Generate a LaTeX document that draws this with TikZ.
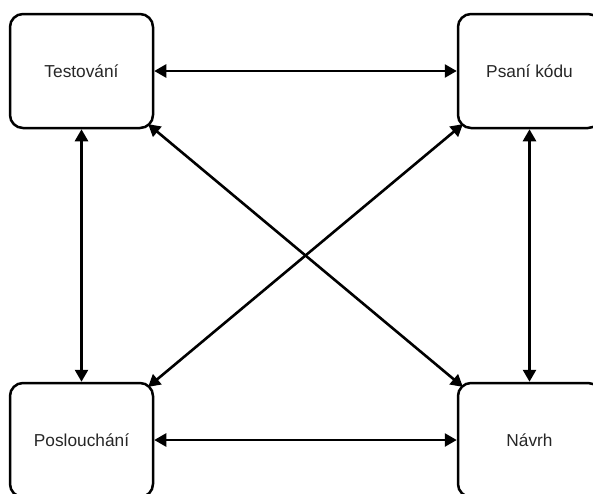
\documentclass[tikz,border=0pt]{standalone}
\usepackage{fontspec}
\setmainfont{Liberation Sans}
\usetikzlibrary{arrows.meta}
\begin{document}
\begin{tikzpicture}[x=1pt,y=-1pt,
  box/.style={draw, line width=2.5pt, rounded corners=13pt, minimum width=143pt, minimum height=114pt, inner sep=0pt, font=\fontsize{17.3}{20}\selectfont, text=black!85},
  link/.style={line width=2.6pt, {Triangle[length=12pt,width=13pt]}-{Triangle[length=12pt,width=13pt]}},
  diag/.style={link, shorten >=-8pt, shorten <=-8pt}]
\useasboundingbox (0,0) rectangle (593,493);
\clip (0,0) rectangle (593,493);
\node[box] (t) at (81.5,71) {Testování};
\node[box] (p) at (529.5,71) {Psaní kódu};
\node[box] (s) at (81.5,440) {Poslouchání};
\node[box] (n) at (529.5,440) {Návrh};
\draw[link] (t) -- (p);
\draw[link] (s) -- (n);
\draw[link] (t) -- (s);
\draw[link] (p) -- (n);
\draw[diag] (t.south east) -- (n.north west);
\draw[diag] (p.south west) -- (s.north east);
\end{tikzpicture}
\end{document}
